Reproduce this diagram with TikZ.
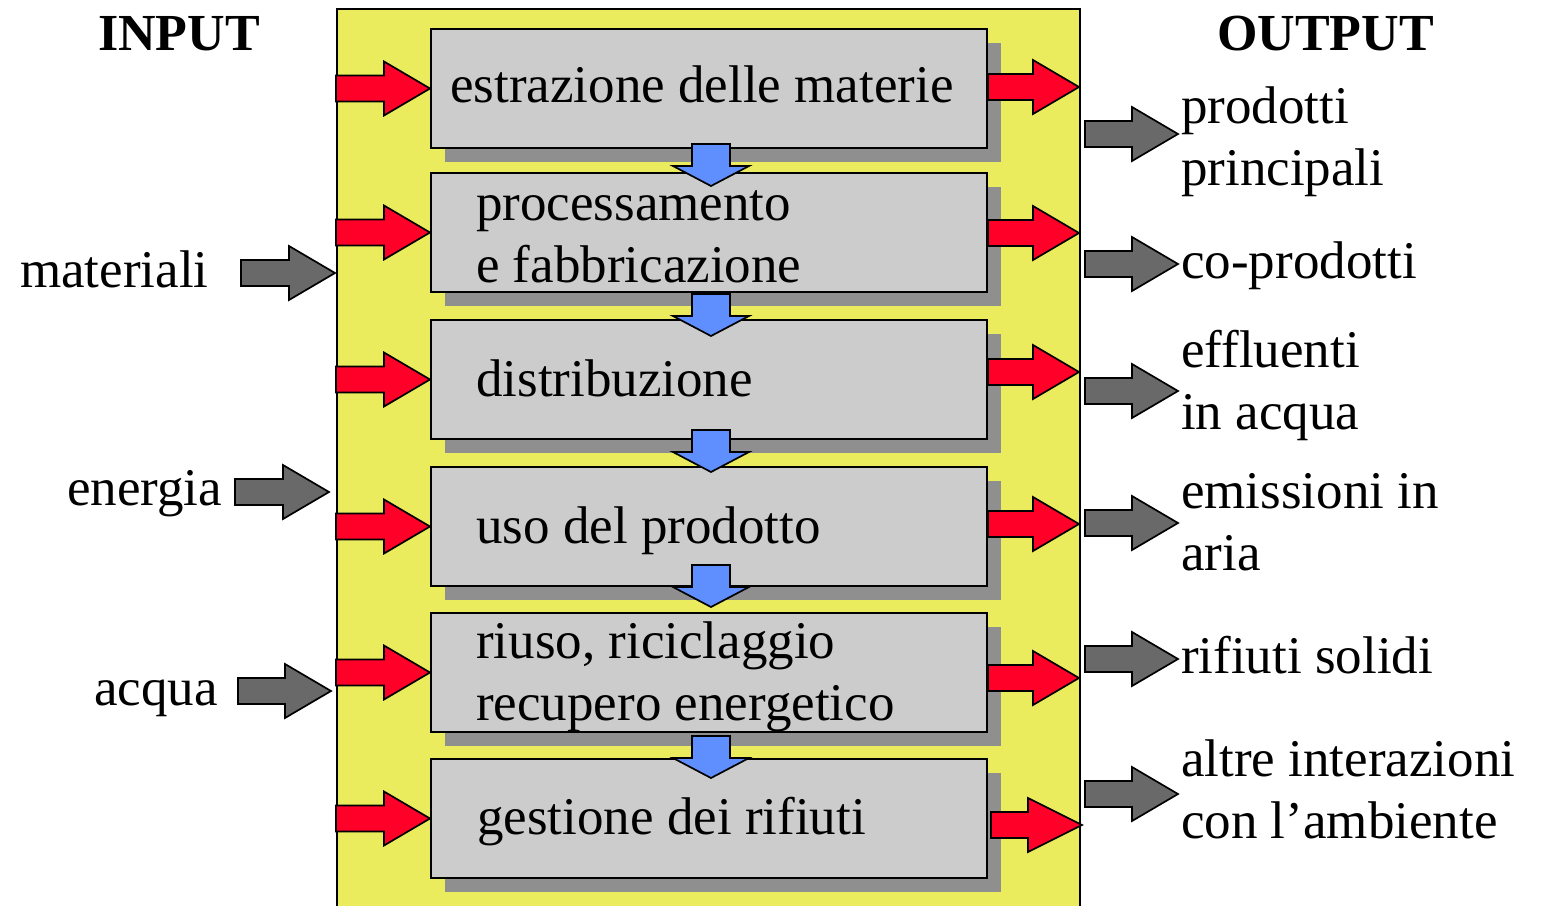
\documentclass[tikz,border=0pt]{standalone}
\usepackage{fontspec}
\setmainfont{Liberation Serif}
\usetikzlibrary{calc,shadows}

\definecolor{framey}{HTML}{EBEB5E}
\definecolor{boxgray}{HTML}{CCCCCC}
\definecolor{shadegray}{HTML}{8F8F8F}
\definecolor{flowred}{HTML}{FF0028}
\definecolor{flowblue}{HTML}{5F8FFF}
\definecolor{flowgray}{HTML}{696969}

\tikzset{
  % horizontal block arrow: tail x from the start, tip at the target
  blockh/.style={draw=black, line width=1.7pt, line join=miter,
    to path={let \p1=(\tikztostart), \p2=(\tikztotarget) in
      (\x1,\y2+13pt) -- (\x2-#1pt,\y2+13pt) -- (\x2-#1pt,\y2+27pt) -- (\x2,\y2)
      -- (\x2-#1pt,\y2-27pt) -- (\x2-#1pt,\y2-13pt) -- (\x1,\y2-13pt) -- cycle}},
  blockh/.default=46,
  % vertical block arrow pointing down
  blockv/.style={draw=black, line width=1.7pt, line join=miter, fill=flowblue,
    to path={let \p1=(\tikztostart), \p2=(\tikztotarget) in
      (\x2-19pt,\y1) -- (\x2+19pt,\y1) -- (\x2+19pt,\y2+20pt) -- (\x2+38pt,\y2+20pt)
      -- (\x2,\y2) -- (\x2-38pt,\y2+20pt) -- (\x2-19pt,\y2+20pt) -- cycle}},
  redarrow/.style={blockh=#1, fill=flowred},
  redarrow/.default=46,
  grayarrow/.style={blockh, fill=flowgray},
  phase/.style={draw=black, line width=2pt, fill=boxgray, anchor=north west,
    minimum width=556pt, minimum height=119pt, inner sep=0pt,
    drop shadow={shadow xshift=14pt, shadow yshift=-14pt, fill=shadegray, opacity=1}},
  % labels are placed by the baseline of their last line
  lbl/.style={anchor=base west, inner sep=0pt, align=left,
    font=\fontsize{53}{62}\selectfont},
  head/.style={anchor=base west, inner sep=0pt, font=\fontsize{52}{62}\selectfont\bfseries},
}

\begin{document}
\begin{tikzpicture}[x=1pt,y=-1pt]
\useasboundingbox (0,0) rectangle (1542,905);

% system boundary
\begin{scope}
\clip (0,0) rectangle (1542,905);
\node[draw=black, line width=2pt, fill=framey, anchor=north west,
      minimum width=743pt, minimum height=920pt, inner sep=0pt] (frame) at (336,8) {};
\end{scope}

% life-cycle phases
\node[phase] (b1) at (430,28) {};
\node[phase] (b2) at (430,172) {};
\node[phase] (b3) at (430,319) {};
\node[phase] (b4) at (430,466) {};
\node[phase] (b5) at (430,612) {};
\node[phase] (b6) at (430,758) {};

\node[lbl] (t1) at ($(b1.north west)+(20,74)$) {estrazione delle materie};
\node[lbl] (t2) at ($(b2.north west)+(46,110)$) {processamento\\e fabbricazione};
\node[lbl] (t3) at ($(b3.north west)+(46,77)$) {distribuzione};
\node[lbl] (t4) at ($(b4.north west)+(46,77)$) {uso del prodotto};
\node[lbl] (t5) at ($(b5.north west)+(46,108)$) {riuso, riciclaggio\\recupero energetico};
\node[lbl] (t6) at ($(b6.north west)+(47,76)$) {gestione dei rifiuti};

% flow from one phase to the next
\coordinate (d1) at (711,186);
\coordinate (d2) at (711,336);
\coordinate (d3) at (711,472);
\coordinate (d4) at (711,607);
\coordinate (d5) at (711,778);
\draw[blockv] ($(d1)+(0,-42)$) to (d1);
\draw[blockv] ($(d2)+(0,-42)$) to (d2);
\draw[blockv] ($(d3)+(0,-42)$) to (d3);
\draw[blockv] ($(d4)+(0,-42)$) to (d4);
\draw[blockv] ($(d5)+(0,-42)$) to (d5);

% inputs to each phase
\foreach \b in {b1,b2,b3,b4,b5,b6}
  \draw[redarrow] (frame.west |- \b.west) to (\b.west);

% outputs of each phase
\coordinate (o1) at (1079,87);
\coordinate (o2) at (1079,233);
\coordinate (o3) at (1079,372);
\coordinate (o4) at (1079,524);
\coordinate (o5) at (1079,678);
\coordinate (o6) at (1082,825);
\draw[redarrow] (b1.east |- o1) to (o1);
\draw[redarrow] (b2.east |- o2) to (o2);
\draw[redarrow] (b3.east |- o3) to (o3);
\draw[redarrow] (b4.east |- o4) to (o4);
\draw[redarrow] (b5.east |- o5) to (o5);
\draw[redarrow=54] ($(b6.east |- o6)+(3,0)$) to (o6);

% headings
\node[head] (hin) at (98,50) {INPUT};
\node[head] (hout) at (1217,50) {OUTPUT};

% system inputs
\node[lbl] (im) at (20,287) {materiali};
\node[lbl] (ie) at (67,505) {energia};
\node[lbl] (ia) at (94,705) {acqua};
\coordinate (imt) at (241,273);  \coordinate (imh) at (335,273);
\coordinate (iet) at (235,492);  \coordinate (ieh) at (329,492);
\coordinate (iat) at (238,691);  \coordinate (iah) at (331,691);
\draw[grayarrow] (imt) to (imh);
\draw[grayarrow] (iet) to (ieh);
\draw[grayarrow] (iat) to (iah);

% system outputs
\node[lbl] (r1) at (1181,185) {prodotti\\principali};
\node[lbl] (r2) at (1181,278) {co-prodotti};
\node[lbl] (r3) at (1181,429) {effluenti\\in acqua};
\node[lbl] (r4) at (1181,570) {emissioni in\\aria};
\node[lbl] (r5) at (1181,673) {rifiuti solidi};
\node[lbl] (r6) at (1181,838) {altre interazioni\\con l’ambiente};
\foreach \y [count=\i] in {134,264,391,523,659,794} {
  \coordinate (ut\i) at (1085,\y);
  \coordinate (uh\i) at (1178,\y);
  \draw[grayarrow] (ut\i) to (uh\i);
}
\end{tikzpicture}
\end{document}
